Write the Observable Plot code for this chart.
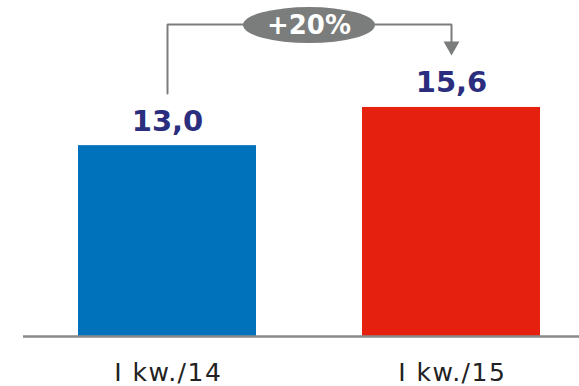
<!DOCTYPE html>
<html>
<head>
<meta charset="utf-8">
<script src="https://cdn.jsdelivr.net/npm/d3@7"></script>
<script src="https://cdn.jsdelivr.net/npm/@observablehq/plot@0.6"></script>
<style>
  html, body { margin: 0; padding: 0; background: #ffffff; }
  #chart svg { display: block; }
</style>
</head>
<body>
<div id="chart"></div>
<script>
// --- data ---
const categories = ["I kw./14", "I kw./15"];
const values = [13.0, 15.6];
const colors = ["#0072bc", "#e5200f"];
const changeLabel = "+20%";

// annotation levels in data units (bracket above the bars)
const bracketStart = 16.55;
const bracketTop = 21.25;
const arrowBase = 20.05;
const arrowCenter = 19.77;

const fmt = v => d3.format(".1f")(v).replace(".", ",");
const data = categories.map((c, i) => ({c, v: values[i]}));

const gray = "#7b7d7d";
const bracket = [
  {x: categories[0], y: bracketStart},
  {x: categories[0], y: bracketTop},
  {x: categories[1], y: bracketTop},
  {x: categories[1], y: arrowBase}
];

const plot = Plot.plot({
  width: 579,
  height: 386,
  marginLeft: 23,
  marginRight: 0,
  marginTop: 0,
  marginBottom: 50,
  style: {fontFamily: "DejaVu Sans", fontSize: "25px", color: "#222222", background: "#ffffff"},
  x: {type: "band", domain: categories, range: [20, 597], paddingInner: 0.375, paddingOuter: 0.2, label: null},
  y: {domain: [0, 22], range: [336, 13], axis: null},
  color: {domain: categories, range: colors},
  marks: [
    Plot.barY(data, {x: "c", y: "v", fill: "c"}),
    Plot.ruleY([0], {stroke: "#8a8a8a", strokeWidth: 2.5}),
    Plot.axisX({tickSize: 0, tickPadding: 27, fontSize: 25, label: null, fill: "#222222"}),
    Plot.text(data, {x: "c", y: "v", text: d => fmt(d.v), dy: -15, lineAnchor: "bottom",
      fontSize: 29, fontWeight: "bold", fill: "#2b2e7e"}),
    Plot.line(bracket, {x: "x", y: "y", stroke: gray, strokeWidth: 2, strokeLinejoin: "miter", curve: "linear"}),
    Plot.dot([{x: categories[1], y: arrowCenter}], {x: "x", y: "y", symbol: "triangle", r: 5.94, rotate: 180, fill: gray, stroke: "none"})
  ]
});

document.getElementById("chart").appendChild(plot);

// widen the category labels slightly (reference font is wider)
d3.select(plot).selectAll('g[aria-label="x-axis tick label"] text')
  .attr("letter-spacing", "1.5px")
  .attr("dx", "0.75px");

// ellipse badge with the change label, centred between the two bars on the bracket
const xs = plot.scale("x");
const ys = plot.scale("y");
const c0 = xs.apply(categories[0]) + xs.bandwidth / 2;
const c1 = xs.apply(categories[1]) + xs.bandwidth / 2;
const cx = (c0 + c1) / 2;
const cy = ys.apply(bracketTop) + 1;
const g = d3.select(plot).append("g");
g.append("ellipse").attr("cx", cx).attr("cy", cy).attr("rx", 66).attr("ry", 18).attr("fill", gray);
g.append("text").attr("x", cx).attr("y", cy).attr("dy", "0.36em").attr("text-anchor", "middle")
  .attr("fill", "#ffffff").attr("font-size", 26).attr("font-weight", "bold")
  .attr("font-family", "DejaVu Sans").text(changeLabel);
</script>
</body>
</html>
